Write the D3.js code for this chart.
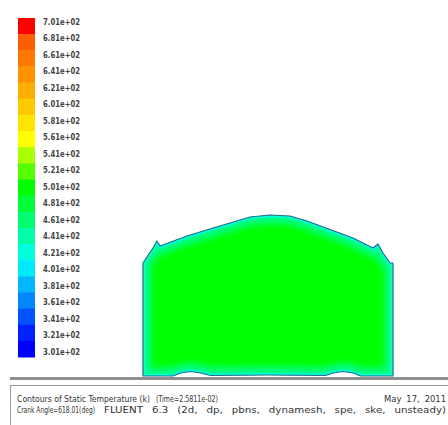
<!DOCTYPE html>
<html>
<head>
<meta charset="utf-8">
<script src="https://cdn.jsdelivr.net/npm/d3@7"></script>
<style>
  body { margin: 0; background: #fff; overflow: hidden; }
</style>
</head>
<body>
<script>
// contour levels (K), top to bottom of the colour bar
const levels = [701, 681, 661, 641, 621, 601, 581, 561, 541, 521, 501, 481, 461, 441, 421, 401, 381, 361, 341, 321, 301];
const levelLabels = ["7.01e+02", "6.81e+02", "6.61e+02", "6.41e+02", "6.21e+02", "6.01e+02", "5.81e+02",
  "5.61e+02", "5.41e+02", "5.21e+02", "5.01e+02", "4.81e+02", "4.61e+02", "4.41e+02", "4.21e+02",
  "4.01e+02", "3.81e+02", "3.61e+02", "3.41e+02", "3.21e+02", "3.01e+02"];

// chamber outline (mm), going round from bottom left
const wallX = [0, 0, 4, 5.6, 6.8, 17.6, 28, 34.8, 42.8, 50.8, 58.8, 65.6, 84, 92, 94, 96, 98.8, 100,
  100, 87, 84, 80, 76, 73, 50, 27, 23, 19, 15, 12, 0];
const wallY = [0, 45.2, 51.2, 54, 52, 56, 59.2, 61.2, 63.6, 64.4, 64, 62, 55.2, 51.2, 52.8, 49.2, 45.2, 45.2,
  0, 0, 1.2, 1.8, 1.2, 0.2, 0.4, 0.2, 1.2, 1.8, 1.2, 0, 0];

// temperatures of the gas core and of the layer near the wall
const coreTemp = 501;
const wallTemp = 450;

const title1 = "Contours of Static Temperature (k)";
const title2 = "(Time=2.5811e-02)";
const dateText = "May 17, 2011";
const info1 = "Crank Angle=618.01(deg)";
const info2 = "FLUENT 6.3 (2d, dp, pbns, dynamesh, spe, ske, unsteady)";

const W = 448, H = 425;
const svg = d3.select("body").append("svg")
  .attr("width", W)
  .attr("height", H);

const defs = svg.append("defs");

// fluent-like spectrum: blue -> cyan -> green -> yellow -> red
const hue = d3.scaleLinear()
  .domain([301, 321, 401, 501, 561, 681, 701])
  .range([240, 232, 185, 120, 60, 22, 0]);
const color = t => d3.hsl(hue(t), 1, 0.5).formatHex();

//////// colour bar
const band = d3.scaleBand().domain(levels).range([18, 357]);
const labelPos = d3.scalePoint().domain(levels).range([22, 352]);

svg.selectAll("rect.band")
  .data(levels)
  .enter()
  .append("rect")
  .attr("class", "band")
  .attr("x", 18)
  .attr("y", d => band(d))
  .attr("width", 17)
  .attr("height", band.bandwidth() + 0.5)
  .attr("fill", d => color(d));

svg.selectAll("text.lab")
  .data(levels)
  .enter()
  .append("text")
  .attr("class", "lab")
  .attr("x", 43)
  .attr("y", d => labelPos(d))
  .attr("dy", "0.35em")
  .attr("font-family", "DejaVu Sans Condensed, DejaVu Sans")
  .attr("font-size", 8.5)
  .attr("font-weight", "bold")
  .attr("fill", "#444")
  .attr("textLength", 37)
  .attr("lengthAdjust", "spacingAndGlyphs")
  .text((d, i) => levelLabels[i]);

//////// chamber
const x = d3.scaleLinear().domain([0, 100]).range([143, 393]);
const y = d3.scaleLinear().domain([0, 64.4]).range([376, 215]);

const pts = wallX.map((d, i) => [d, wallY[i]]);
const line = d3.line().x(d => x(d[0])).y(d => y(d[1]));

defs.append("clipPath").attr("id", "chamber")
  .append("path").attr("d", line(pts) + "Z");
defs.append("filter").attr("id", "soft")
  .attr("x", "-10%").attr("y", "-10%").attr("width", "120%").attr("height", "120%")
  .append("feGaussianBlur").attr("stdDeviation", 3.5);

svg.append("path")
  .attr("d", line(pts) + "Z")
  .attr("fill", color(coreTemp));

const edge = svg.append("g").attr("clip-path", "url(#chamber)");
edge.append("path")
  .attr("d", line(pts) + "Z")
  .attr("fill", "none")
  .attr("stroke", color(wallTemp))
  .attr("stroke-width", 16)
  .attr("filter", "url(#soft)");
edge.append("path")
  .attr("d", line(pts) + "Z")
  .attr("fill", "none")
  .attr("stroke", color(421))
  .attr("stroke-width", 4);

svg.append("path")
  .attr("d", line(pts) + "Z")
  .attr("fill", "none")
  .attr("stroke", "#2a6c88")
  .attr("stroke-width", 1.2)
  .attr("stroke-linejoin", "round");

//////// frame and footer
svg.append("rect")
  .attr("x", 10).attr("y", 377)
  .attr("width", W - 10).attr("height", 3)
  .attr("fill", "#8e8e8e");

svg.append("rect")
  .attr("x", 10.5).attr("y", 385.5)
  .attr("width", W).attr("height", 60)
  .attr("fill", "none")
  .attr("stroke", "#9a9a9a");

const foot = svg.append("g")
  .attr("font-family", "DejaVu Sans Condensed, DejaVu Sans")
  .attr("font-size", 8)
  .attr("fill", "#333");

function put(str, x0, x1, yy, ws) {
  foot.append("text").attr("x", x0).attr("y", yy)
    .attr("word-spacing", ws)
    .attr("textLength", x1 - x0)
    .attr("lengthAdjust", "spacingAndGlyphs")
    .text(str);
}
put(title1, 17, 150, 402, 0);
put(title2, 156, 218, 402, 0);
put(dateText, 384, 446, 402, 2);
put(info1, 17, 95, 413, 0);
put(info2, 104, 446, 413, 4);
</script>
</body>
</html>
